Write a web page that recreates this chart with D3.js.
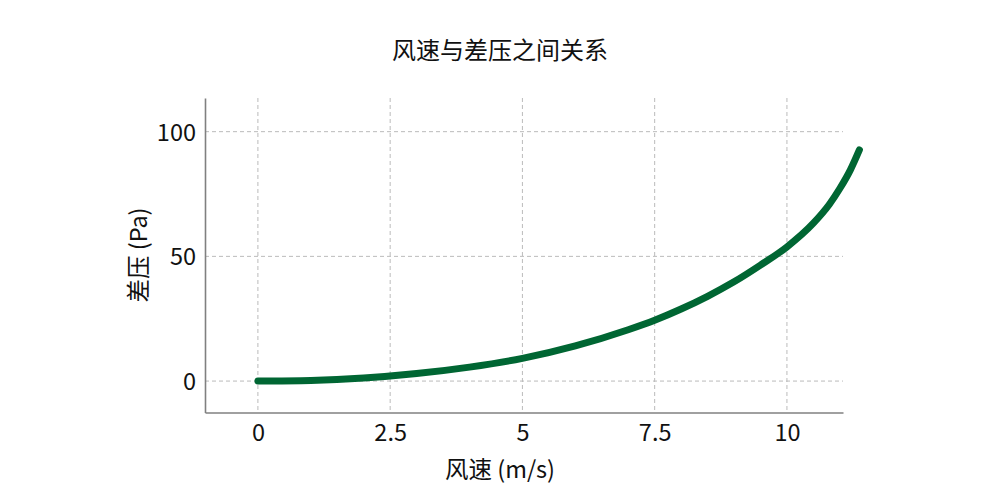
<!DOCTYPE html>
<html>
<head>
<meta charset="utf-8">
<script src="https://cdn.jsdelivr.net/npm/d3@7"></script>
<style>
  body { margin: 0; background: #fff; }
  text { font-family: "Noto Sans CJK SC", "Noto Sans", sans-serif; fill: #111; }
</style>
</head>
<body>
<div id="chart"></div>
<script>
// values
const windSpeed = [0, 1, 2, 3, 4, 5, 6, 7, 7.5, 8, 8.5, 9, 9.5, 10, 10.5, 10.8, 11, 11.2, 11.37];
const pressure  = [0, 0.25, 1.2, 3.0, 5.6, 9.1, 14.1, 20.6, 24.4, 28.9, 34.0, 39.8, 46.5, 53.8, 63.3, 70.8, 77.2, 84.7, 92.7];
const xTicks = [0, 2.5, 5, 7.5, 10];
const yTicks = [0, 50, 100];

const title = "风速与差压之间关系";
const xLabel = "风速 (m/s)";
const yLabel = "差压 (Pa)";

const W = 1000, H = 500;
const svg = d3.select("#chart")
  .append("svg")
  .attr("width", W)
  .attr("height", H);

const x = d3.scaleLinear().domain([-1.0, 11.06]).range([205, 843]);
const y = d3.scaleLinear().domain([-12.6, 113.5]).range([412.5, 98]);

// grid
const grid = svg.append("g")
  .attr("stroke", "#bbb")
  .attr("stroke-width", 1)
  .attr("stroke-dasharray", "4,3");

grid.selectAll("line.gx")
  .data(xTicks)
  .enter()
  .append("line")
  .attr("x1", d => x(d)).attr("x2", d => x(d))
  .attr("y1", y.range()[1]).attr("y2", y.range()[0]);

grid.selectAll("line.gy")
  .data(yTicks)
  .enter()
  .append("line")
  .attr("x1", x.range()[0]).attr("x2", x.range()[1])
  .attr("y1", d => y(d)).attr("y2", d => y(d));

// axes
const xAxis = svg.append("g")
  .attr("transform", `translate(0,${y.range()[0]})`)
  .call(d3.axisBottom(x).tickValues(xTicks).tickSize(0).tickPadding(12).tickFormat(d3.format("")));
const yAxis = svg.append("g")
  .attr("transform", `translate(${x.range()[0]},0)`)
  .call(d3.axisLeft(y).tickValues(yTicks).tickSize(0).tickPadding(9));

[xAxis, yAxis].forEach(a => {
  a.select(".domain").attr("stroke", "#808080").attr("stroke-width", 1.6);
  a.selectAll("text")
    .attr("font-family", '"Noto Sans CJK SC", "Noto Sans", sans-serif')
    .attr("font-size", 23.5)
    .attr("fill", "#111");
});
yAxis.selectAll("text").attr("dy", "0.36em");

// line
const pts = windSpeed.map((v, i) => [v, pressure[i]]);
svg.append("path")
  .datum(pts)
  .attr("fill", "none")
  .attr("stroke", "#006633")
  .attr("stroke-width", 7)
  .attr("stroke-linecap", "round")
  .attr("stroke-linejoin", "round")
  .attr("d", d3.line()
    .x(d => x(d[0]))
    .y(d => y(d[1]))
    .curve(d3.curveMonotoneX));

// labels
svg.append("text")
  .attr("x", 500).attr("y", 59)
  .attr("text-anchor", "middle")
  .attr("font-size", 24)
  .text(title);

svg.append("text")
  .attr("x", 500).attr("y", 478)
  .attr("text-anchor", "middle")
  .attr("font-size", 23.5)
  .text(xLabel);

svg.append("text")
  .attr("transform", "translate(147,255) rotate(-90)")
  .attr("text-anchor", "middle")
  .attr("font-size", 23.5)
  .text(yLabel);
</script>
</body>
</html>
